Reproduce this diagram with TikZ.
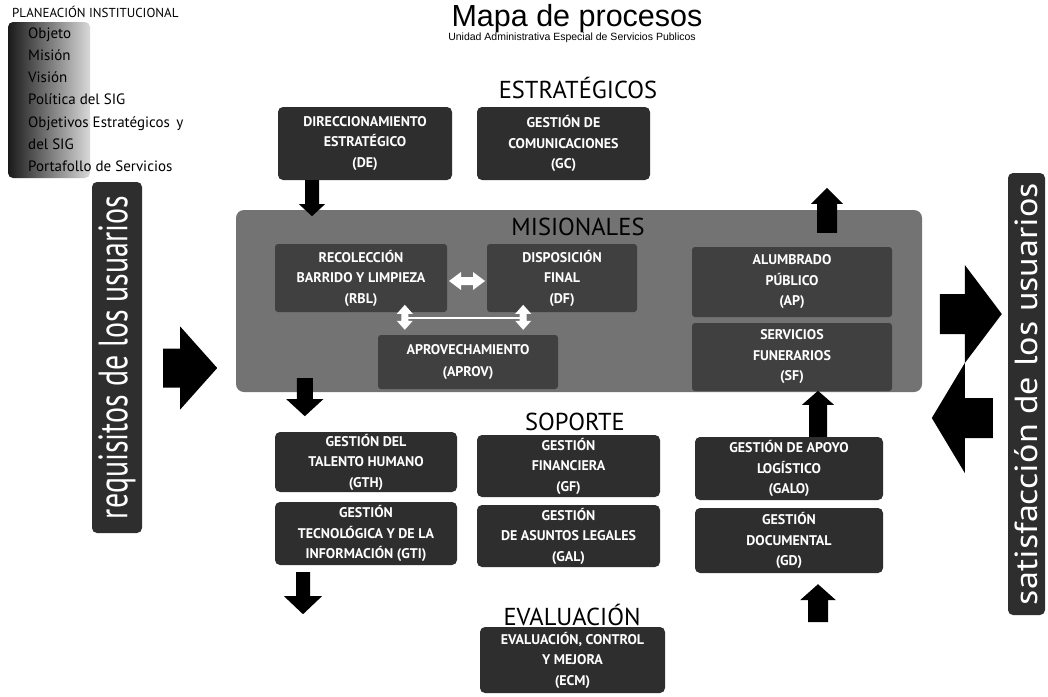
\documentclass[tikz,border=0pt]{standalone}
\usepackage{fontspec}
\setmainfont{PT Sans}
\newfontfamily\titlefont{Liberation Sans}
\usetikzlibrary{calc}
\definecolor{boxc}{gray}{0.18}
\definecolor{misc}{gray}{0.45}
\definecolor{innc}{gray}{0.25}
\tikzset{
  pbox/.style={rounded corners=5pt, fill=boxc, text=white, align=center, inner sep=0pt,
    font=\bfseries\fontsize{14}{20.5}\selectfont},
  ibox/.style={pbox, fill=innc, rounded corners=3pt},
  sect/.style={font=\fontsize{24.5}{24.5}\selectfont, inner sep=0pt},
  side/.style={rounded corners=5pt, fill=boxc, text=white, inner sep=0pt, rotate=90},
  item/.style={anchor=base west, inner sep=0pt, font=\fontsize{15}{15}\selectfont},
  pics/barr/.style n args={4}{code={
    \fill (0,{-#2/2}) -- ({#1-#4},{-#2/2}) -- ({#1-#4},{-#3/2}) -- (#1,0)
      -- ({#1-#4},{#3/2}) -- ({#1-#4},{#2/2}) -- (0,{#2/2}) -- cycle;}},
  pics/dbarr/.style n args={4}{code={
    \fill (0,0) -- (#4,{-#3/2}) -- (#4,{-#2/2}) -- ({#1-#4},{-#2/2}) -- ({#1-#4},{-#3/2})
      -- (#1,0) -- ({#1-#4},{#3/2}) -- ({#1-#4},{#2/2}) -- (#4,{#2/2}) -- (#4,{#3/2}) -- cycle;}},
}
\begin{document}
\begin{tikzpicture}[x=1pt,y=-1pt]
\useasboundingbox[fill=white] (0,0) rectangle (1048,696);

% title
\node[anchor=base, inner sep=0pt, font=\titlefont\fontsize{30.5}{30.5}\selectfont] (title) at (577,26) {Mapa de procesos};
\node[anchor=base, inner sep=0pt, font=\titlefont\fontsize{10.5}{10.5}\selectfont] (sub) at (572,40) {Unidad Administrativa Especial de Servicios Publicos};

% planeacion
\node[anchor=base west, inner sep=0pt, font=\fontsize{13}{13}\selectfont] (plan) at (12,17) {PLANEACIÓN INSTITUCIONAL};
\path[rounded corners=5pt, left color=black!90, right color=black!15] (8,22) rectangle (90,178);
\node[item] (i1) at (28,38) {Objeto};
\node[item] (i2) at (28,60.3) {Misión};
\node[item] (i3) at (28,82.6) {Visión};
\node[item] (i4) at (28,104.9) {Política del SIG};
\node[item] (i5) at (28,127.2) {Objetivos Estratégicos\, y};
\node[item] (i6) at (28,149.5) {del SIG};
\node[item] (i7) at (28,171.8) {Portafollo de Servicios};

% side boxes
\node[side, minimum width=351, minimum height=50] (req) at (117,357.5) {\resizebox{323pt}{29pt}{requisitos de los usuarios}};
\node[side, minimum width=442, minimum height=37] (sat) at (1026.5,394) {\resizebox{422pt}{23pt}{satisfacción de los usuarios}};

% estrategicos
\node[sect] (est) at (578,88) {ESTRATÉGICOS};
\node[pbox, minimum width=174, minimum height=73] (de) at (365,143.5) {DIRECCIONAMIENTO\\ESTRATÉGICO\\(DE)};
\node[pbox, minimum width=173, minimum height=73] (gc) at (563.5,143.5) {GESTIÓN DE\\COMUNICACIONES\\(GC)};

% misionales
\node[rounded corners=8pt, fill=misc, minimum width=686, minimum height=182, inner sep=0pt] (mis) at (579,301) {};
\node[sect, text=black] (misl) at (578,227) {MISIONALES};
\node[ibox, minimum width=172, minimum height=68] (rbl) at (361,278) {RECOLECCIÓN\\BARRIDO Y LIMPIEZA\\(RBL)};
\node[ibox, minimum width=150, minimum height=68] (df) at (562,278) {DISPOSICIÓN\\FINAL\\(DF)};
\node[ibox, minimum width=180, minimum height=54, font=\bfseries\fontsize{14}{22}\selectfont] (aprov) at (468,362) {APROVECHAMIENTO\\(APROV)};
\node[ibox, minimum width=200, minimum height=70] (ap) at (792,282) {ALUMBRADO\\PÚBLICO\\(AP)};
\node[ibox, minimum width=200, minimum height=68] (sf) at (792,357) {SERVICIOS\\FUNERARIOS\\(SF)};

% white arrows in misionales
\pic[white] at ($(rbl.east)!0.5!(df.west)+(-18,3)$) {dbarr={36}{8}{18}{12}};
\pic[white, rotate=-90] at ($(aprov.north west)+(27,-30)$) {dbarr={25}{7}{16}{9}};
\pic[white, rotate=-90] at ($(aprov.north east)+(-35,-30)$) {dbarr={25}{7}{16}{9}};
\draw[white, line width=2.5pt] ($(aprov.north west)+(27,-17)$) -- ($(aprov.north east)+(-35,-17)$);

% soporte
\node[sect] (sop) at (575,422) {SOPORTE};
\node[pbox, minimum width=182, minimum height=60] (gth) at (366,462) {GESTIÓN DEL\\TALENTO HUMANO\\(GTH)};
\node[pbox, minimum width=182, minimum height=63] (gti) at (366,533.5) {GESTIÓN\\TECNOLÓGICA Y DE LA\\INFORMACIÓN (GTI)};
\node[pbox, minimum width=183, minimum height=62] (gf) at (568.5,466) {GESTIÓN\\FINANCIERA\\(GF)};
\node[pbox, minimum width=183, minimum height=62] (gal) at (568.5,536) {GESTIÓN\\DE ASUNTOS LEGALES\\(GAL)};
\node[pbox, minimum width=188, minimum height=63] (galo) at (789,468.5) {GESTIÓN DE APOYO\\LOGÍSTICO\\(GALO)};
\node[pbox, minimum width=188, minimum height=65] (gd) at (789,540.5) {GESTIÓN\\DOCUMENTAL\\(GD)};

% evaluacion
\node[sect] (eva) at (572,615) {EVALUACIÓN};
\node[pbox, minimum width=185, minimum height=66] (ecm) at (572.5,660) {EVALUACIÓN, CONTROL\\Y MEJORA\\(ECM)};

% block arrows
\pic[black, rotate=-90] at ($(de.south)+(-53,0)$) {barr={36}{14}{26}{12}};
\pic[black, rotate=90] at ($(ap.north)+(35,-14)$) {barr={45}{20}{32}{16}};
\pic[black, rotate=-90] at ($(mis.south west)+(69,-14)$) {barr={38}{16}{37}{17}};
\pic[black, rotate=-90] at ($(gti.south)+(-63,7)$) {barr={42}{14}{38}{18}};
\pic[black, rotate=90] at ($(galo.north)+(29,0)$) {barr={46}{18}{32}{14}};
\pic[black, rotate=90] at ($(gd.south)+(29,49)$) {barr={38}{20}{36}{16}};
\pic[black] at ($(req.south)+(21,10.5)$) {barr={54}{39}{83}{37}};
\pic[black] at ($(sat.north)+(-68,-80)$) {barr={62}{40}{98}{37}};
\pic[black, rotate=180] at ($(sat.north)+(-15,24)$) {barr={61}{40}{110}{33}};
\end{tikzpicture}
\end{document}
